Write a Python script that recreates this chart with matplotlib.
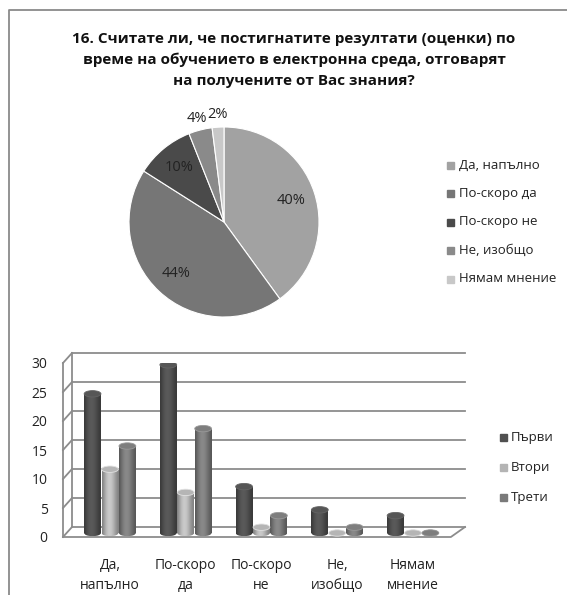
import numpy as np
import matplotlib
matplotlib.use("Agg")
import matplotlib.pyplot as plt
import matplotlib.transforms as mtransforms
from matplotlib.patches import Ellipse, Rectangle

plt.rcParams['font.family'] = ['Open Sans', 'DejaVu Sans']

title = ("16. Считате ли, че постигнатите резултати (оценки) по\n"
         "време на обучението в електронна среда, отговарят\n"
         "на получените от Вас знания?")

answers = ["Да, напълно", "По-скоро да", "По-скоро не", "Не, изобщо", "Нямам мнение"]
answer_ticks = ["Да,\nнапълно", "По-скоро\nда", "По-скоро\nне", "Не,\nизобщо", "Нямам\nмнение"]
share_pct = [40, 44, 10, 4, 2]
pie_colors = ["#a2a2a2", "#767676", "#4a4a4a", "#8a8a8a", "#c8c8c8"]

groups = ["Първи", "Втори", "Трети"]
first = [24, 29, 8, 4, 3]
second = [11, 7, 1, 0, 0]
third = [15, 18, 3, 1, 0]
group_colors = ["#505050", "#b4b4b4", "#7a7a7a"]
y_ticks = [0, 5, 10, 15, 20, 25, 30]

W, H = 567, 595
fig = plt.figure(figsize=(W / 100, H / 100), dpi=100)


def px_box(x0, y0, x1, y1):
    # pixel box with top-left origin -> figure fraction rect
    return [x0 / W, 1 - y1 / H, (x1 - x0) / W, (y1 - y0) / H]


# overlay in pixel units for frame, title and legends
bg = fig.add_axes([0, 0, 1, 1], zorder=-5)
bg.set_xlim(0, W)
bg.set_ylim(H, 0)
bg.axis('off')
bg.plot([9, 9, W], [H, 10, 10], color="#8a8a8a", lw=1.3)
bg.text(294, 60, title, ha='center', va='center', fontsize=11,
        fontweight='bold', linespacing=1.62, color="#111111")

# ---- pie ----
pax = fig.add_axes(px_box(74, 72, 374, 372))
wedges, _ = pax.pie(share_pct, colors=pie_colors, startangle=90, counterclock=False,
                    wedgeprops=dict(edgecolor="white", linewidth=0.8))
lim = 150 / 95
pax.set_xlim(-lim, lim)
pax.set_ylim(-lim, lim)
for w, pct in zip(wedges, share_pct):
    ang = np.deg2rad((w.theta1 + w.theta2) / 2)
    r = 0.74 if pct >= 5 else 1.13
    pax.text(r * np.cos(ang), r * np.sin(ang), f"{pct}%", ha='center', va='center',
             fontsize=10.5, color="#222222")

for i, (name, col) in enumerate(zip(answers, pie_colors)):
    y = 165 + i * 28.5
    bg.add_patch(Rectangle((447, y - 3.5), 7, 7, color=col))
    bg.text(459, y, name, ha='left', va='center', fontsize=9.5, color="#222222")

# ---- 3D-style column chart ----
ax = fig.add_axes(px_box(63, 363, 452, 537))
x_lo, x_hi = -0.62, 4.515
ax.set_xlim(x_lo, x_hi)
ax.set_ylim(0, 30)
for s in ax.spines.values():
    s.set_visible(False)

ux = 389 / (x_hi - x_lo)   # px per category unit
uy = 174 / 30              # px per value unit
dx, dy = 9 / ux, 10 / uy   # depth offset of the back wall
wall = dict(color="#8c8c8c", lw=1.3, clip_on=False, zorder=0)

for v in y_ticks:
    ax.plot([x_lo + dx, 4.568 + dx], [v + dy, v + dy], **wall)
    ax.plot([x_lo, x_lo + dx], [v, v + dy], **wall)
ax.plot([x_lo + dx, x_lo + dx], [dy, 30 + dy], **wall)
ax.plot([x_lo, x_lo], [0, 30], **wall)
ax.plot([x_lo, 4.5, 4.568 + dx], [0, 0, dy], **wall)

lift = mtransforms.ScaledTranslation(0, 4 / 100, fig.dpi_scale_trans)
bar_tr = ax.transData + lift
width = 0.222
ell_h = 1.1
offsets = [-0.23, 0.0, 0.23]
u = np.linspace(0, 1, 64)
shade = 0.72 + 0.40 * np.sin(np.pi * u ** 0.85) ** 1.5

x = np.arange(len(answer_ticks))
for k, (vals, col) in enumerate(zip([first, second, third], group_colors)):
    rgb = np.array(matplotlib.colors.to_rgb(col))
    img = np.clip(rgb[None, None, :] * shade[None, :, None], 0, 1)
    bars = ax.bar(x + offsets[k], vals, width, color=col, transform=bar_tr,
                  label=groups[k], zorder=2, linewidth=0)
    for rect, val in zip(bars, vals):
        x0 = rect.get_x()
        xc = x0 + width / 2
        bottom = Ellipse((xc, 0), width, ell_h, transform=bar_tr)
        im = ax.imshow(img, extent=(x0, x0 + width, -ell_h / 2, ell_h / 2), aspect='auto',
                       interpolation='bilinear', transform=bar_tr, zorder=2)
        im.set_clip_path(bottom)
        if val > 0:
            im = ax.imshow(img, extent=(x0, x0 + width, 0, val), aspect='auto',
                           interpolation='bilinear', transform=bar_tr, zorder=3)
            im.set_clip_path(rect)
        top_col = np.clip(rgb * 0.95 + 0.04, 0, 1)
        ax.add_patch(Ellipse((xc, val), width, ell_h, transform=bar_tr,
                             facecolor=top_col, edgecolor=np.clip(rgb * 1.25, 0, 1),
                             lw=0.6, zorder=4))

ax.set_xlim(x_lo, x_hi)
ax.set_ylim(0, 30)
ax.set_yticks(y_ticks)
ax.set_xticks(x, answer_ticks)
ax.tick_params(axis='y', length=0, pad=11, labelsize=10, labelcolor="#222222")
ax.tick_params(axis='x', length=0, pad=15, labelsize=10, labelcolor="#222222")
for lbl in ax.get_xticklabels():
    lbl.set_linespacing(1.45)

for i, (name, col) in enumerate(zip(groups, group_colors)):
    y = 437 + i * 30
    bg.add_patch(Rectangle((500, y - 3.5), 7, 7, color=col))
    bg.text(511, y, name, ha='left', va='center', fontsize=9.5, color="#222222")

fig.savefig("out.png", dpi=100)
